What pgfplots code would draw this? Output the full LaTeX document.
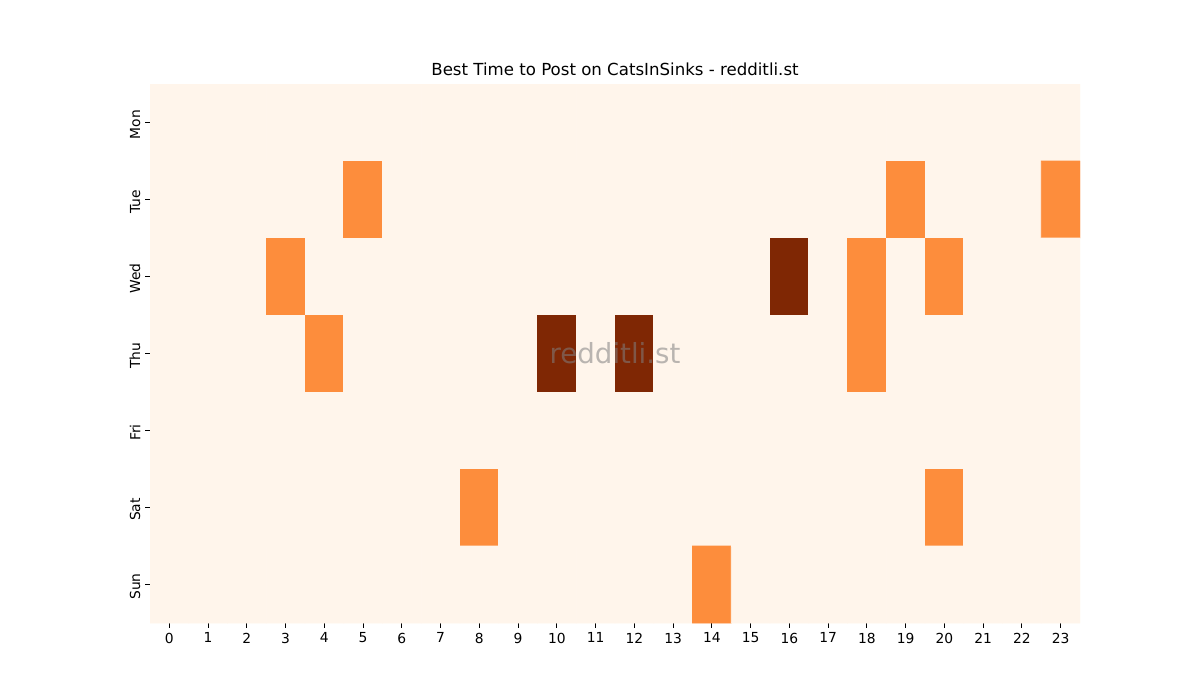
\documentclass[border=0pt]{standalone}
\usepackage{fontspec}
\setmainfont{DejaVu Sans}
\usepackage{pgfplots}
\pgfplotsset{compat=1.18}
\definecolor{bgc}{RGB}{255,245,235}
\begin{document}
\begin{tikzpicture}
\useasboundingbox (0,0) rectangle (864bp,504bp);
\begin{axis}[
  at={(108bp,55.44bp)}, anchor=south west,
  scale only axis, width=669.6bp, height=388.08bp,
  xmin=-0.5, xmax=23.5, ymin=-0.5, ymax=6.5,
  y dir=reverse, enlargelimits=false,
  axis line style={draw=none},
  colormap={oranges}{rgb255=(255,245,235) rgb255=(253,141,60) rgb255=(127,39,4)},
  point meta min=0, point meta max=2,
  xtick={0,...,23}, ytick={0,...,6},
  yticklabels={Mon,Tue,Wed,Thu,Fri,Sat,Sun},
  xtick pos=bottom, ytick pos=left,
  tick align=outside, major tick length=3.5bp,
  tick style={black, line width=0.6bp},
  /pgf/number format/assume math mode=true,
  xticklabel style={font=\fontsize{10}{12}\selectfont},
  yticklabel style={font=\fontsize{10}{12}\selectfont, rotate=90, anchor=south, xshift=-1.5bp},
  title={Best Time to Post on CatsInSinks - redditli.st},
  title style={font=\fontsize{12}{14}\selectfont, at={(0.5,1)}, anchor=south, yshift=-0.5bp, inner sep=0pt},
]
\addplot[matrix plot*, mesh/cols=24, point meta=explicit] table[meta=c, row sep=\\] {
x y c\\
0 0 0\\ 1 0 0\\ 2 0 0\\ 3 0 0\\ 4 0 0\\ 5 0 0\\ 6 0 0\\ 7 0 0\\ 8 0 0\\ 9 0 0\\ 10 0 0\\ 11 0 0\\ 12 0 0\\ 13 0 0\\ 14 0 0\\ 15 0 0\\ 16 0 0\\ 17 0 0\\ 18 0 0\\ 19 0 0\\ 20 0 0\\ 21 0 0\\ 22 0 0\\ 23 0 0\\
0 1 0\\ 1 1 0\\ 2 1 0\\ 3 1 0\\ 4 1 0\\ 5 1 1\\ 6 1 0\\ 7 1 0\\ 8 1 0\\ 9 1 0\\ 10 1 0\\ 11 1 0\\ 12 1 0\\ 13 1 0\\ 14 1 0\\ 15 1 0\\ 16 1 0\\ 17 1 0\\ 18 1 0\\ 19 1 1\\ 20 1 0\\ 21 1 0\\ 22 1 0\\ 23 1 1\\
0 2 0\\ 1 2 0\\ 2 2 0\\ 3 2 1\\ 4 2 0\\ 5 2 0\\ 6 2 0\\ 7 2 0\\ 8 2 0\\ 9 2 0\\ 10 2 0\\ 11 2 0\\ 12 2 0\\ 13 2 0\\ 14 2 0\\ 15 2 0\\ 16 2 2\\ 17 2 0\\ 18 2 1\\ 19 2 0\\ 20 2 1\\ 21 2 0\\ 22 2 0\\ 23 2 0\\
0 3 0\\ 1 3 0\\ 2 3 0\\ 3 3 0\\ 4 3 1\\ 5 3 0\\ 6 3 0\\ 7 3 0\\ 8 3 0\\ 9 3 0\\ 10 3 2\\ 11 3 0\\ 12 3 2\\ 13 3 0\\ 14 3 0\\ 15 3 0\\ 16 3 0\\ 17 3 0\\ 18 3 1\\ 19 3 0\\ 20 3 0\\ 21 3 0\\ 22 3 0\\ 23 3 0\\
0 4 0\\ 1 4 0\\ 2 4 0\\ 3 4 0\\ 4 4 0\\ 5 4 0\\ 6 4 0\\ 7 4 0\\ 8 4 0\\ 9 4 0\\ 10 4 0\\ 11 4 0\\ 12 4 0\\ 13 4 0\\ 14 4 0\\ 15 4 0\\ 16 4 0\\ 17 4 0\\ 18 4 0\\ 19 4 0\\ 20 4 0\\ 21 4 0\\ 22 4 0\\ 23 4 0\\
0 5 0\\ 1 5 0\\ 2 5 0\\ 3 5 0\\ 4 5 0\\ 5 5 0\\ 6 5 0\\ 7 5 0\\ 8 5 1\\ 9 5 0\\ 10 5 0\\ 11 5 0\\ 12 5 0\\ 13 5 0\\ 14 5 0\\ 15 5 0\\ 16 5 0\\ 17 5 0\\ 18 5 0\\ 19 5 0\\ 20 5 1\\ 21 5 0\\ 22 5 0\\ 23 5 0\\
0 6 0\\ 1 6 0\\ 2 6 0\\ 3 6 0\\ 4 6 0\\ 5 6 0\\ 6 6 0\\ 7 6 0\\ 8 6 0\\ 9 6 0\\ 10 6 0\\ 11 6 0\\ 12 6 0\\ 13 6 0\\ 14 6 1\\ 15 6 0\\ 16 6 0\\ 17 6 0\\ 18 6 0\\ 19 6 0\\ 20 6 0\\ 21 6 0\\ 22 6 0\\ 23 6 0\\
};
\node[font=\fontsize{20}{24}\selectfont, text=gray, opacity=0.55] at (axis cs:11.5,3) {redditli.st};
\end{axis}
\end{tikzpicture}
\end{document}
